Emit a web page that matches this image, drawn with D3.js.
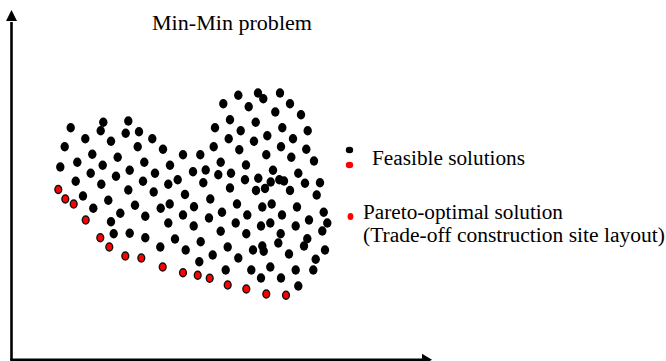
<!DOCTYPE html>
<html>
<head>
<meta charset="utf-8">
<script src="https://cdn.jsdelivr.net/npm/d3@7/dist/d3.min.js"></script>
<style>
  html, body { margin: 0; padding: 0; background: #fff; }
  svg { display: block; }
  text { font-family: "Liberation Serif", "Times New Roman", serif; fill: #000; }
</style>
</head>
<body>
<svg id="chart" width="666" height="361"></svg>
<script>
// Feasible solutions (objective 1, objective 2) in chart units
const feasibleX = [58.7,91.3,88.7,116.3,73.3,113.7,127,99,140.3,52.7,125.7,151,171,80.3,105.7,48.3,65.3,90.7,132.3,158,78.7,117.7,143,181,104,63.7,89.3,131,156.3,165.7,116.3,141.7,71,173,81.3,96.3,123,148.7,157.7,182,108.3,133.3,171,99,156.3,181.7,101.7,117.7,133.3,163,148.3,173.7,246,251.3,268,226.3,211.3,236.7,278,263.3,289,218,243.7,203,228.7,270.3,295.7,216.7,242,255.3,281,201.7,227.3,269,294.3,188.3,254.3,279.3,208.7,302,193.7,206.3,219,234,261,286.3,191.3,233,246.3,258.7,267.3,272,293,308,218,244,253,278,304.7,198.3,225,250.3,259.7,285,311.7,197,210,235.3,270,297,315.3,223.7,249,258.3,283.7,310.3,208.7,234.3,268.7,295.3,188.7,266.3,292,215.7,250.3,251.7,241,277,313,200.7,226.3,187.3,303.7,213.7,239.3,258.3,283.7,301.3,249,269,286.3];
const feasibleY = [232.3,237.7,229.3,239,221.3,226.7,228.3,218.7,221.3,213.3,213.3,210.7,205.3,205.7,202.7,193,197.7,194.7,197.7,194.7,186.7,189.7,186.7,188.3,183.7,178.7,175.7,178.7,175.7,180.3,170,168,164,165.5,151.7,159.7,154.7,151.7,156,153.3,146.7,143.7,145,138.3,137,134,126.3,126.7,122.3,121,113,110,267,261.3,267,264.7,256.3,253.3,256.3,248,245.3,240.3,237.7,232.3,229.3,232.3,229.3,221.3,218.7,224.3,221.3,213.3,210.3,213.3,210.7,205.3,205.3,202.7,197.7,199,190,185.3,186.7,195,189.7,186.7,177.3,180.3,181.7,178,180.3,179,176.7,177.3,172,169.5,171.5,169.5,165,161,156,153,156,153,147.7,142,147.7,145,145,140,137,137,134,137,134,129,128.7,126.3,126.3,121.3,118.3,117,114,113,114,108.7,110,106,110,105,102,98.3,100.7,90,90,93,90,90,82,82,74];
// Pareto-optimal solutions
const paretoX = [46.3,53.3,61.7,73.7,88.3,97.3,113.3,129.3,150.7,171,185.7,197.7,215.7,234.3,254.3,274];
const paretoY = [170.5,161,156,140,122.3,113,104,102,93,87.3,84.7,81.7,75,71,66,64.7];

const titleText = "Min-Min problem";
const legendLabels = ["Feasible solutions", "Pareto-optimal solution", "(Trade-off construction site layout)"];

const svg = d3.select("#chart");
const x = d3.scaleLinear().domain([0, 420]).range([12, 432]);
const y = d3.scaleLinear().domain([0, 350]).range([360, 10]);

// Axes with arrowheads
const axisG = svg.append("g");
axisG.append("line")
  .attr("x1", x(0) - 0.5).attr("x2", x(0) - 0.5)
  .attr("y1", y(0)).attr("y2", y(338))
  .attr("stroke", "#000").attr("stroke-width", 2.6);
axisG.append("line")
  .attr("x1", x(0) - 1.8).attr("x2", x(410))
  .attr("y1", y(0) - 0.3).attr("y2", y(0) - 0.3)
  .attr("stroke", "#000").attr("stroke-width", 2.4);
// y arrowhead
axisG.append("path")
  .attr("d", `M${x(0) - 0.5},${y(350)} L${x(0) - 6},${y(339)} L${x(0) + 5},${y(339)} Z`)
  .attr("fill", "#000");
// x arrowhead
axisG.append("path")
  .attr("d", `M${x(420)},${y(0) - 0.3} L${x(410)},${y(0) - 6.3} L${x(410)},${y(0) + 5.7} Z`)
  .attr("fill", "#000");

// Feasible points
svg.append("g").selectAll("ellipse")
  .data(d3.range(feasibleX.length))
  .join("ellipse")
  .attr("cx", i => x(feasibleX[i]))
  .attr("cy", i => y(feasibleY[i]))
  .attr("rx", 4.2).attr("ry", 4.7)
  .attr("fill", "#000");

// Pareto points
svg.append("g").selectAll("ellipse")
  .data(d3.range(paretoX.length))
  .join("ellipse")
  .attr("cx", i => x(paretoX[i]))
  .attr("cy", i => y(paretoY[i]))
  .attr("rx", 3.4).attr("ry", 4.0)
  .attr("fill", "#ff0000")
  .attr("stroke", "#111").attr("stroke-width", 1.4);

// Title
svg.append("text")
  .attr("x", 152).attr("y", 30)
  .attr("font-size", 20)
  .attr("textLength", 160).attr("lengthAdjust", "spacingAndGlyphs")
  .text(titleText);

// Legend
svg.append("ellipse").attr("cx", 349.5).attr("cy", 150).attr("rx", 3.7).attr("ry", 3.3).attr("fill", "#000");
svg.append("ellipse").attr("cx", 349.5).attr("cy", 165).attr("rx", 3.7).attr("ry", 3.3).attr("fill", "#ff0000");
svg.append("text")
  .attr("x", 372).attr("y", 164.5)
  .attr("font-size", 20)
  .attr("textLength", 153).attr("lengthAdjust", "spacingAndGlyphs")
  .text(legendLabels[0]);

svg.append("ellipse").attr("cx", 350.5).attr("cy", 216.5).attr("rx", 2.9).attr("ry", 3.5).attr("fill", "#ff0000");
svg.append("text")
  .attr("x", 363).attr("y", 219)
  .attr("font-size", 20.5)
  .attr("textLength", 200).attr("lengthAdjust", "spacingAndGlyphs")
  .text(legendLabels[1]);
svg.append("text")
  .attr("x", 363).attr("y", 242)
  .attr("font-size", 20.5)
  .attr("textLength", 302).attr("lengthAdjust", "spacingAndGlyphs")
  .text(legendLabels[2]);
</script>
</body>
</html>
